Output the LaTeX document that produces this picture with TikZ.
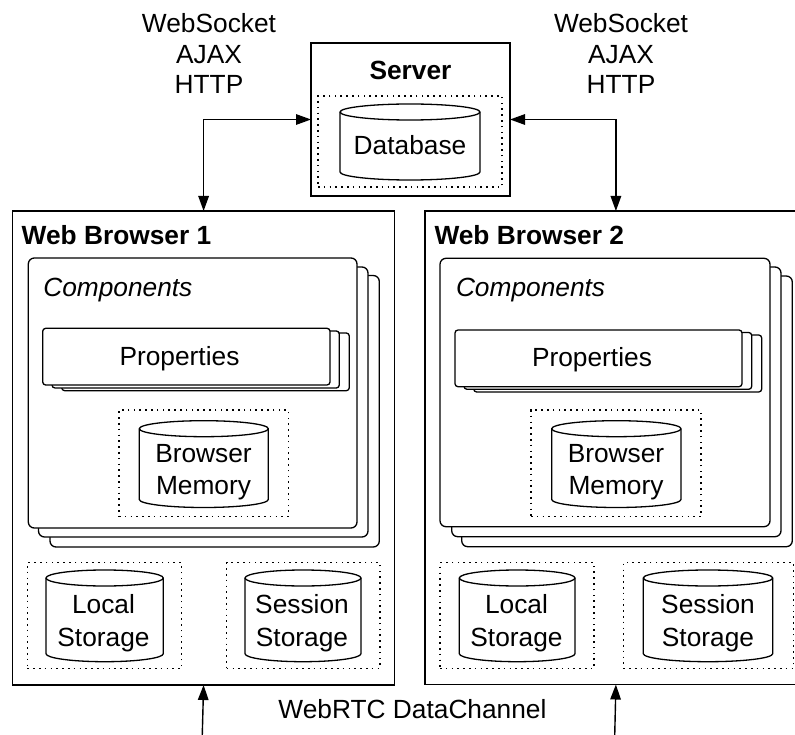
\documentclass[tikz,border=0pt]{standalone}
\usepackage{fontspec}
\setmainfont{Liberation Sans}
\usetikzlibrary{arrows.meta}

% Units: 1 unit = 1pt, y grows downwards
\tikzset{
  every node/.style={inner sep=0pt, outer sep=0pt},
  txt/.style={font=\fontsize{26.3}{30.3}\selectfont, anchor=base},
  txtw/.style={font=\fontsize{26.3}{30.3}\selectfont, anchor=base west},
  frame/.style={draw=black, line width=1.4pt, fill=white},
  dotbox/.style={draw=black, line width=1.4pt, dash pattern=on 1.6pt off 4.2pt},
  layer/.style={draw=black, line width=1.3pt, fill=white, rounded corners=6pt},
  proplayer/.style={draw=black, line width=1.3pt, fill=white, rounded corners=3pt},
  drumline/.style={draw=black, line width=1.3pt},
  tipk/.tip={Triangle[length=15pt, width=10.5pt]},
  conn/.style={draw=black, line width=1.4pt},
}

% rectangle node given by its corners: style, x1, y1, x2, y2, name
\newcommand\cornerbox[6]{%
  \node[#1, minimum width={#4-#2}, minimum height={#5-#3}] (#6)
    at ({(#2+#4)/2},{(#3+#5)/2}) {};}

% storage cylinder: name, x1, y1 (top of lid), x2, y2 (lowest point of base)
\newcommand\drum[5]{%
  \pgfmathsetmacro\dxm{(#2+#4)/2}%
  \pgfmathsetmacro\dk{0.5523*(#4-#2)/2}%
  \pgfmathsetmacro\dyt{#3+8}%
  \pgfmathsetmacro\dyb{#5-8}%
  \draw[drumline, fill=white] (#2,\dyt) -- (#2,\dyb)
    .. controls (#2,{\dyb+4.42}) and ({\dxm-\dk},#5) .. (\dxm,#5)
    .. controls ({\dxm+\dk},#5) and (#4,{\dyb+4.42}) .. (#4,\dyb)
    -- (#4,\dyt)
    .. controls (#4,{\dyt-4.42}) and ({\dxm+\dk},#3) .. (\dxm,#3)
    .. controls ({\dxm-\dk},#3) and (#2,{\dyt-4.42}) .. (#2,\dyt) -- cycle;
  \draw[drumline] (#2,\dyt)
    .. controls (#2,{\dyt+4.42}) and ({\dxm-\dk},{#3+16}) .. (\dxm,{#3+16})
    .. controls ({\dxm+\dk},{#3+16}) and (#4,{\dyt+4.42}) .. (#4,\dyt);
  \coordinate (#1) at (\dxm,{(#3+#5)/2});}

\begin{document}
\begin{tikzpicture}[x=1pt, y=-1pt]
\useasboundingbox (0,0) rectangle (795,735);
\clip (0,0) rectangle (795,735);
\fill[white] (0,0) rectangle (795,735);

% ---------- Server ----------
\cornerbox{frame}{311}{43}{510}{196}{srv}
\node[txt, font=\fontsize{26.3}{30.3}\selectfont\bfseries] (srvlbl) at (410.5,79.3) {Server};
\cornerbox{dotbox}{318}{96}{502}{187}{dbgrp}
\drum{db}{340}{104}{480}{180}
\node[txt] (dblbl) at (410,155) {Database};

% protocol labels
\node[txt] (pl1) at (209,33) {WebSocket};
\node[txt] (pl2) at (209,63.3) {AJAX};
\node[txt] (pl3) at (209,93.3) {HTTP};
\node[txt] (pr1) at (621,33) {WebSocket};
\node[txt] (pr2) at (621,63.3) {AJAX};
\node[txt] (pr3) at (621,93.3) {HTTP};

% ---------- Web Browser 1 ----------
\cornerbox{frame}{12.7}{211}{394.5}{685}{b1}
\node[txtw, font=\fontsize{26.3}{30.3}\selectfont\bfseries] (b1lbl) at (21.7,245) {Web Browser 1};

\draw[layer] (50,275.5) rectangle (379.3,547);
\draw[layer] (38.5,267) rectangle (368,537);
\cornerbox{layer}{28.3}{258}{357}{528}{cmp1}
\node[txtw, font=\fontsize{26.3}{30.3}\selectfont\itshape] (cmp1lbl) at (43.3,296.7) {Components};

\draw[proplayer] (61.7,333) rectangle (349.3,390.7);
\draw[proplayer] (52,331) rectangle (339.3,388);
\cornerbox{proplayer}{42.7}{328.3}{330}{385}{prop1}
\node[txt] (prop1lbl) at (179.5,365.7) {Properties};

\cornerbox{dotbox}{119}{410}{288.3}{516.7}{memgrp1}
\drum{mem1}{139.3}{420.7}{268.3}{507.5}
\node[txt] (mem1a) at (203.5,462.7) {Browser};
\node[txt] (mem1b) at (203.5,494.3) {Memory};

\cornerbox{dotbox}{27.3}{562.7}{181.7}{668.3}{locgrp1}
\drum{loc1}{46}{570}{163.3}{661.7}
\node[txt] (loc1a) at (103.5,613.3) {Local};
\node[txt] (loc1b) at (103.5,646) {Storage};

\cornerbox{dotbox}{226.7}{562.7}{380}{668.3}{sesgrp1}
\drum{ses1}{245}{570}{361}{661.7}
\node[txt] (ses1a) at (302,613.3) {Session};
\node[txt] (ses1b) at (302,646) {Storage};

% ---------- Web Browser 2 ----------
\cornerbox{frame}{425}{211}{806.8}{684.5}{b2}
\node[txtw, font=\fontsize{26.3}{30.3}\selectfont\bfseries] (b2lbl) at (434.5,245) {Web Browser 2};

\draw[layer] (461.7,276) rectangle (792.3,546.7);
\draw[layer] (451.7,267) rectangle (781,536.7);
\cornerbox{layer}{440}{258.3}{770}{526.7}{cmp2}
\node[txtw, font=\fontsize{26.3}{30.3}\selectfont\itshape] (cmp2lbl) at (456,296.7) {Components};

\draw[proplayer] (473.7,335) rectangle (761.7,392);
\draw[proplayer] (464,332.5) rectangle (751.7,389.3);
\cornerbox{proplayer}{455}{330}{742}{386.7}{prop2}
\node[txt] (prop2lbl) at (592,366.5) {Properties};

\cornerbox{dotbox}{531}{410}{701}{516.7}{memgrp2}
\drum{mem2}{551.7}{420.7}{681}{507.5}
\node[txt] (mem2a) at (616,462.7) {Browser};
\node[txt] (mem2b) at (616,494.3) {Memory};

\cornerbox{dotbox}{440}{562.7}{594}{668.3}{locgrp2}
\drum{loc2}{459.3}{570}{575}{661.7}
\node[txt] (loc2a) at (516.5,613.3) {Local};
\node[txt] (loc2b) at (516.5,646) {Storage};

\cornerbox{dotbox}{623.3}{562.7}{793.3}{668.3}{sesgrp2}
\drum{ses2}{643.3}{570}{772.7}{661.7}
\node[txt] (ses2a) at (708,613.3) {Session};
\node[txt] (ses2b) at (708,646) {Storage};

% ---------- Connectors ----------
\draw[conn, {tipk}-{tipk}] (srv.west) -| (b1.north);
\draw[conn, {tipk}-{tipk}] (srv.east) -| (b2.north);

\coordinate (rtc1) at (202,745);
\coordinate (rtc2) at (614.5,745);
\draw[conn, -{tipk}] (rtc1) -- (b1.south);
\draw[conn, -{tipk}] (rtc2) -- (b2.south);
\node[txt] (rtclbl) at (412.5,718.3) {WebRTC DataChannel};

\end{tikzpicture}
\end{document}
